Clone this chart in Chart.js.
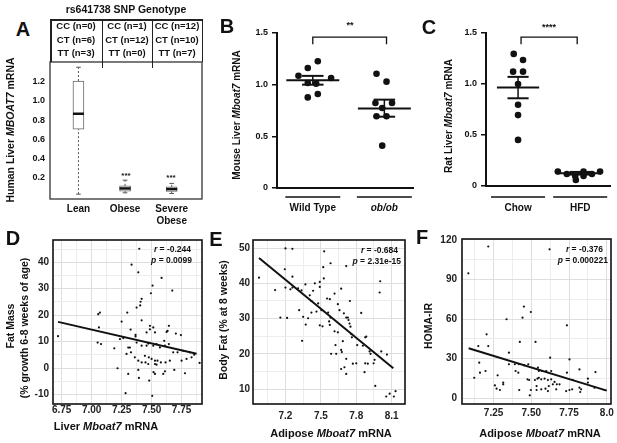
<!DOCTYPE html>
<html>
<head>
<meta charset="utf-8">
<script src="https://cdn.jsdelivr.net/npm/chart.js@4.4.1/dist/chart.umd.min.js"></script>
<style>
body { margin: 0; background: #fff; }
#fig { position: relative; width: 617px; height: 443px; overflow: hidden;
       font-family: "Liberation Sans", Arial, sans-serif; font-weight: bold; color: #111; }
canvas { position: absolute; }
.t { position: absolute; white-space: nowrap; line-height: 1; transform: translate(-50%, -50%); }
.r { transform: translate(-50%, -50%) rotate(-90deg); }
.re { transform: translate(-100%, -50%); }
.ln { position: absolute; background: #222; }
.big { font-size: 20px; }
</style>
</head>
<body>
<div id="fig">
  <canvas id="ca" style="left:0px;top:45px" width="210" height="190"></canvas>
  <canvas id="cb" style="left:215px;top:10px" width="202" height="220"></canvas>
  <canvas id="cc" style="left:425px;top:10px" width="192" height="220"></canvas>
  <canvas id="cd" style="left:0px;top:228px" width="210" height="192"></canvas>
  <canvas id="ce" style="left:210px;top:228px" width="200" height="192"></canvas>
  <canvas id="cf" style="left:415px;top:228px" width="202" height="192"></canvas>

  <!-- panel letters -->
  <div class="t big" style="left:23px;top:29px">A</div>
  <div class="t big" style="left:227px;top:26px">B</div>
  <div class="t big" style="left:429px;top:27px">C</div>
  <div class="t big" style="left:13px;top:238px">D</div>
  <div class="t big" style="left:216px;top:239px">E</div>
  <div class="t big" style="left:422px;top:237px">F</div>

  <!-- panel A header table -->
  <div class="t" style="left:126px;top:9px;font-size:10.5px">rs641738 SNP Genotype</div>
  <div class="ln" style="left:50px;top:19px;width:153px;height:1.5px"></div>
  <div class="ln" style="left:50px;top:19px;width:1.5px;height:43px"></div>
  <div class="ln" style="left:201.5px;top:19px;width:1.5px;height:43px"></div>
  <div class="ln" style="left:101.5px;top:19px;width:1.5px;height:49px"></div>
  <div class="ln" style="left:151.5px;top:19px;width:1.5px;height:49px"></div>
  <div class="t" style="left:76px;top:26px;font-size:9.5px">CC (n=0)</div>
  <div class="t" style="left:76px;top:39.5px;font-size:9.5px">CT (n=6)</div>
  <div class="t" style="left:76px;top:53px;font-size:9.5px">TT (n=3)</div>
  <div class="t" style="left:127px;top:26px;font-size:9.5px">CC (n=1)</div>
  <div class="t" style="left:127px;top:39.5px;font-size:9.5px">CT (n=12)</div>
  <div class="t" style="left:127px;top:53px;font-size:9.5px">TT (n=0)</div>
  <div class="t" style="left:177px;top:26px;font-size:9.5px">CC (n=12)</div>
  <div class="t" style="left:177px;top:39.5px;font-size:9.5px">CT (n=10)</div>
  <div class="t" style="left:177px;top:53px;font-size:9.5px">TT (n=7)</div>
  <div class="t" style="left:126px;top:176px;font-size:8px">***</div>
  <div class="t" style="left:171px;top:178px;font-size:8px">***</div>

  <!-- axis titles -->
  <div class="t r" style="left:10px;top:130px;font-size:10.5px">Human Liver <i>MBOAT7</i> mRNA</div>
  <div class="t r" style="left:237px;top:115px;font-size:10px">Mouse Liver <i>Mboat7</i> mRNA</div>
  <div class="t r" style="left:449px;top:116px;font-size:10px">Rat Liver <i>Mboat7</i> mRNA</div>
  <div class="t" style="left:350px;top:25px;font-size:9px">**</div>
  <div class="t" style="left:549px;top:27px;font-size:9px">****</div>

  <div class="t r" style="left:10px;top:326px;font-size:10.5px">Fat Mass</div>
  <div class="t r" style="left:24px;top:328px;font-size:10.5px">(% growth 6-8 weeks of age)</div>
  <div class="t" style="left:106px;top:426px;font-size:11px">Liver <i>Mboat7</i> mRNA</div>
  <div class="t r" style="left:223px;top:320px;font-size:10.5px">Body Fat (% at 8 weeks)</div>
  <div class="t" style="left:331px;top:433px;font-size:11px">Adipose <i>Mboat7</i> mRNA</div>
  <div class="t r" style="left:428px;top:326px;font-size:10.5px">HOMA-IR</div>
  <div class="t" style="left:540px;top:433px;font-size:11px">Adipose <i>Mboat7</i> mRNA</div>

  <div class="t re" style="left:191px;top:249px;font-size:8.5px"><i>r</i> = -0.244</div>
  <div class="t re" style="left:192px;top:260px;font-size:8.5px"><i>p</i> = 0.0099</div>
  <div class="t re" style="left:398px;top:250px;font-size:8.5px"><i>r</i> = -0.684</div>
  <div class="t re" style="left:401px;top:261px;font-size:8.5px"><i>p</i> = 2.31e-15</div>
  <div class="t re" style="left:603px;top:249px;font-size:8.5px"><i>r</i> = -0.376</div>
  <div class="t re" style="left:608px;top:260px;font-size:8.5px"><i>p</i> = 0.000221</div>
</div>

<script>
// ---- A: box plot summary (human liver MBOAT7) ----
var aLabels = ['Lean', 'Obese', ['Severe', 'Obese']];
var aMin = [0.021, 0.035, 0.028];
var aQ1  = [0.705, 0.053, 0.049];
var aMed = [0.866, 0.081, 0.074];
var aQ3  = [1.21, 0.108, 0.098];
var aMax = [1.355, 0.168, 0.134];
var aYTicks = [0.2, 0.4, 0.6, 0.8, 1.0, 1.2];

// ---- B: mouse liver ----
var bGroups = ['Wild Type', 'ob/ob'];
var bWtX = [1.07, 0.93, 0.80, 1.256, 0.93, 1.047, 0.93, 1.07];
var bWtY = [1.226, 1.161, 1.087, 1.065, 1.016, 1.01, 0.877, 0.91];
var bObX = [1.89, 2.03, 1.875, 2.107, 1.97, 1.89, 2.03, 1.97];
var bObY = [1.106, 1.029, 0.823, 0.823, 0.774, 0.694, 0.694, 0.41];
var bMean = [1.042, 0.77];
var bSemLo = [1.0, 0.69];
var bSemHi = [1.085, 0.855];

// ---- C: rat liver ----
var cGroups = ['Chow', 'HFD'];
var cChowX = [0.93, 1.08, 0.92, 1.08, 1.0, 1.0, 1.0, 1.0];
var cChowY = [1.295, 1.236, 1.121, 1.121, 1.0, 0.797, 0.695, 0.452];
var cHfdX = [1.64, 1.785, 1.92, 1.93, 2.054, 2.054, 2.19, 2.32];
var cHfdY = [0.141, 0.118, 0.098, 0.059, 0.141, 0.098, 0.118, 0.141];
var cMean = [0.965, 0.125];
var cSemLo = [0.86, 0.112];
var cSemHi = [1.07, 0.138];

// ---- D: liver Mboat7 vs fat mass growth ----
var dX = [7.397,7.333,7.389,7.583,7.672,7.508,7.494,7.417,7.408,7.405,7.375,7.297,7.069,7.055,7.061,7.417,7.25,7.325,7.366,7.366,
  7.486,7.486,7.514,7.458,7.528,7.644,7.633,7.625,7.702,7.744,7.264,7.236,7.05,7.078,7.189,7.305,7.319,7.291,7.328,7.375,
  7.417,7.458,7.472,7.514,7.541,7.569,7.611,7.605,7.644,7.68,7.716,7.763,7.819,7.855,7.833,7.75,7.791,7.444,7.477,7.5,
  7.528,7.549,7.36,7.389,7.417,7.449,7.472,7.577,7.616,7.652,7.528,7.541,7.689,7.778,7.611,7.597,7.516,7.528,7.305,7.389,
  7.394,7.216,7.48,7.283,7.505,6.72,7.9];
var dY = [45.1,39.1,36.2,34.1,29.3,31.2,28.3,26.2,25.1,23.7,22.9,21.0,21.0,20.4,15.4,18.1,17.6,14.6,12.6,12.0,
  16.0,14.7,15.4,13.5,13.5,16.0,14.1,13.7,13.1,12.5,11.4,11.0,9.7,9.1,7.5,7.8,7.8,5.4,6.0,9.7,
  8.5,8.5,9.3,8.5,9.1,7.85,8.5,10.35,9.1,6.0,6.0,6.6,6.0,5.1,4.1,2.85,3.5,4.7,4.1,3.5,
  2.85,2.85,4.1,2.85,2.2,2.2,1.6,2.2,2.2,2.85,1.6,1.35,-0.65,-1.9,-1.15,-2.15,-1.5,-2.15,-2.15,-0.65,
  -3.65,0.0,-4.65,-9.4,-10.4,12.1,2.0];
var dFitX = [6.72, 7.875];
var dFitY = [17.5, 5.5];
var dXGrid = [6.75,6.875,7.0,7.125,7.25,7.375,7.5,7.625,7.75,7.875];
var dXMajor = [6.75,7.0,7.25,7.5,7.75];
var dYGrid = [-10,-5,0,5,10,15,20,25,30,35,40,45];
var dYMajor = [-10,0,10,20,30,40];

// ---- E: adipose Mboat7 vs body fat ----
var eX = [6.976,7.2,7.259,7.528,7.582,7.194,7.52,7.259,7.112,7.2,7.242,7.259,7.307,7.336,7.369,7.449,7.491,7.491,7.525,7.434,
  7.406,7.42,7.477,7.553,7.576,7.316,7.42,7.463,7.505,7.157,7.214,7.35,7.392,7.562,7.372,7.491,7.514,7.57,7.576,7.341,
  7.715,8.003,7.998,7.672,7.746,7.842,7.616,7.644,7.658,7.695,7.715,7.729,7.734,7.743,7.751,7.582,7.616,7.644,7.757,7.763,
  7.686,7.624,7.808,7.856,7.876,7.885,7.672,7.678,7.63,7.587,7.913,7.921,8.012,8.06,7.715,7.955,7.947,7.771,7.8,7.672,
  7.7,7.715,7.876,7.898,7.87,7.961,8.054,8.083,8.119,8.133];
var eY = [41.6,49.9,49.8,49.1,45.7,44.0,44.6,41.9,38.1,38.8,38.3,38.8,38.6,38.0,39.7,40.0,40.4,39.0,41.4,37.9,
  36.6,35.0,34.3,35.7,35.5,32.4,31.7,32.0,32.4,30.3,30.2,30.5,30.1,31.7,28.3,28.1,27.8,29.2,28.2,23.7,
  44.9,40.6,37.4,38.5,35.0,31.6,37.1,34.1,32.4,31.5,30.3,30.3,29.6,28.6,27.7,30.3,26.4,26.1,25.6,24.7,
  23.6,22.5,22.5,22.3,24.7,24.9,21.1,20.5,20.0,20.0,20.7,20.0,20.7,19.8,18.6,18.3,17.3,17.2,17.3,15.7,
  16.2,14.3,17.3,17.2,14.8,10.9,7.9,8.7,7.9,9.4];
var eFitX = [6.976, 8.114];
var eFitY = [47.2, 15.9];
var eXGrid = [7.05,7.2,7.35,7.5,7.65,7.8,7.95,8.1];
var eXMajor = [7.2,7.5,7.8,8.1];
var eYGrid = [10,15,20,25,30,35,40,45,50];
var eYMajor = [10,20,30,40,50];

// ---- F: adipose Mboat7 vs HOMA-IR ----
var fX = [7.215,7.083,7.451,7.497,7.442,7.336,7.204,7.149,7.215,7.528,7.424,7.352,7.155,7.16,7.122,7.197,7.277,7.352,7.391,7.418,
  7.453,7.48,7.396,7.414,7.259,7.27,7.292,7.314,7.314,7.475,7.486,7.524,7.541,7.55,7.42,7.497,7.49,7.535,7.535,
  7.621,7.736,7.625,7.753,7.544,7.572,7.599,7.819,7.925,7.632,7.55,7.566,7.588,7.61,7.632,7.654,7.643,7.616,7.669,7.687,
  7.736,7.775,7.594,7.61,7.665,7.731,7.753,7.771,7.83,7.824,7.819,7.875,7.875,7.919,7.985,7.566];
var fY = [115.0,94.7,69.5,65.4,61.1,59.9,48.5,39.6,39.6,42.7,42.7,34.6,27.0,19.4,15.6,20.7,17.4,25.8,25.8,25.8,
  25.0,25.8,20.7,19.4,9.8,7.3,6.3,11.9,10.6,14.4,13.9,13.9,14.9,20.7,6.3,6.3,2.3,6.3,9.3,
  112.9,55.3,30.8,29.5,23.2,20.7,20.7,21.9,19.9,20.7,15.6,14.4,14.9,13.9,14.4,12.4,10.6,9.3,10.6,10.6,
  19.4,13.9,7.3,5.5,6.8,5.5,6.3,6.8,6.8,4.8,8.1,14.9,11.9,8.1,6.3,6.8];
var fFitX = [7.085, 8.0];
var fFitY = [37.9, 5.8];
var fXGrid = [7.125,7.25,7.375,7.5,7.625,7.75,7.875,8.0];
var fXMajor = [7.25,7.5,7.75,8.0];
var fYGrid = [0,15,30,45,60,75,90,105,120];
var fYMajor = [0,30,60,90,120];

Chart.defaults.font.family = '"Liberation Sans", Arial, sans-serif';
Chart.defaults.font.weight = 'bold';
Chart.defaults.color = '#111';
Chart.defaults.animation = false;
Chart.defaults.events = [];
Chart.defaults.plugins.legend.display = false;
Chart.defaults.plugins.tooltip.enabled = false;

// box round the plot area
var frame = {
  id: 'frame',
  afterDatasetsDraw: function(chart, args, opts) {
    var a = chart.chartArea, c = chart.ctx;
    c.save();
    c.strokeStyle = opts.color || '#111';
    c.lineWidth = opts.width || 1.5;
    c.strokeRect(a.left, a.top, a.right - a.left, a.bottom - a.top);
    c.restore();
  }
};

// group underlines below the x axis (GraphPad style)
var groupLines = {
  id: 'groupLines',
  afterDraw: function(chart, args, opts) {
    var x = chart.scales.x, c = chart.ctx, y0 = chart.chartArea.bottom + opts.gap;
    c.save();
    c.strokeStyle = '#111';
    c.lineWidth = 1.5;
    opts.centers.forEach(function(v) {
      c.beginPath();
      c.moveTo(x.getPixelForValue(v - opts.half), y0);
      c.lineTo(x.getPixelForValue(v + opts.half), y0);
      c.stroke();
    });
    c.restore();
  }
};

function seg(pts, w, extra) {
  var d = {
    type: 'line',
    data: pts.map(function(p) { return {x: p[0], y: p[1]}; }),
    borderColor: '#111', borderWidth: w, pointRadius: 0, fill: false, clip: false
  };
  for (var k in extra) d[k] = extra[k];
  return d;
}

function pts(xs, ys) {
  return xs.map(function(x, i) { return {x: x, y: ys[i]}; });
}

function fixedTicks(list) {
  return function(s) { s.ticks = list.map(function(v) { return {value: v}; }); };
}

function isIn(list, v) {
  return list.some(function(t) { return Math.abs(t - v) < 1e-6; });
}

// ---------- A ----------
var aX = [1, 2, 3];
var aSets = [];
aX.forEach(function(x, i) {
  aSets.push(seg([[x - 0.118, aMed[i]], [x + 0.118, aMed[i]]], 2.5, {order: 0}));
  aSets.push(seg([[x, aQ3[i]], [x, aMax[i]]], 1, {order: 1, borderColor: '#555', borderDash: [2, 2]}));
  aSets.push(seg([[x, aMin[i]], [x, aQ1[i]]], 1, {order: 1, borderColor: '#555', borderDash: [2, 2]}));
  aSets.push(seg([[x - 0.05, aMax[i]], [x + 0.05, aMax[i]]], 1, {order: 1, borderColor: '#555'}));
  aSets.push(seg([[x - 0.05, aMin[i]], [x + 0.05, aMin[i]]], 1, {order: 1, borderColor: '#555'}));
});
aSets.push({
  type: 'bar', order: 2,
  data: aX.map(function(x, i) { return {x: x, y: [aQ1[i], aQ3[i]]}; }),
  backgroundColor: '#fff', borderColor: '#666', borderWidth: 1, borderSkipped: false, barThickness: 11
});

new Chart(document.getElementById('ca'), {
  type: 'scatter',
  data: { datasets: aSets },
  options: {
    responsive: false,
    layout: { padding: { top: 17, right: 8, left: 0, bottom: 0 } },
    plugins: { frame: { width: 1.3, color: '#333' } },
    scales: {
      x: {
        type: 'linear', min: 0.39, max: 3.65, offset: false,
        afterBuildTicks: fixedTicks(aX),
        afterFit: function(s) { s.height = 36; },
        ticks: { autoSkip: false, maxRotation: 0, padding: 4, font: { size: 10 },
                 callback: function(v, i) { return aLabels[i]; } },
        grid: { display: false, drawTicks: false, offset: false }, border: { display: false }
      },
      y: {
        min: -0.03, max: 1.41,
        afterBuildTicks: fixedTicks(aYTicks),
        afterFit: function(s) { s.width = 50; },
        ticks: { padding: 5, font: { size: 9 }, callback: function(v) { return v.toFixed(1); } },
        grid: { display: false, drawTicks: false }, border: { display: false }
      }
    }
  },
  plugins: [frame]
});

// ---------- B and C (dot plots with mean +/- SEM) ----------
function dotPlot(id, o) {
  var sets = [];
  o.px.forEach(function(xs, g) {
    sets.push({ type: 'scatter', data: pts(xs, o.py[g]), backgroundColor: '#111', borderWidth: 0,
                pointRadius: 3.3, clip: false });
  });
  o.mean.forEach(function(m, g) {
    var c = g + 1;
    sets.push(seg([[c - o.meanHalf, m], [c + o.meanHalf, m]], 2));
    sets.push(seg([[c, o.lo[g]], [c, o.hi[g]]], 1.5));
    sets.push(seg([[c - o.capHalf, o.lo[g]], [c + o.capHalf, o.lo[g]]], 2));
    sets.push(seg([[c - o.capHalf, o.hi[g]], [c + o.capHalf, o.hi[g]]], 2));
  });
  sets.push(seg([[o.br[0], 1.39], [o.br[0], 1.46], [o.br[1], 1.46], [o.br[1], 1.39]], 1.3));

  new Chart(document.getElementById(id), {
    type: 'scatter',
    data: { datasets: sets },
    options: {
      responsive: false,
      layout: { padding: { top: 23, right: o.padRight, left: 0, bottom: 0 } },
      plugins: { groupLines: { centers: [1, 2], half: o.lineHalf, gap: o.gap } },
      scales: {
        x: {
          type: 'linear', min: o.xmin, max: o.xmax, offset: false,
          afterBuildTicks: fixedTicks([1, 2]),
          afterFit: function(s) { s.height = o.xh; },
          ticks: {
            autoSkip: false, maxRotation: 0, padding: o.labelPad,
            font: function(ctx) {
              return { size: 10, weight: 'bold', style: (o.italic === ctx.index) ? 'italic' : 'normal' };
            },
            callback: function(v, i) { return o.names[i]; }
          },
          grid: { display: false, drawTicks: false },
          border: { display: true, color: '#111', width: 2 }
        },
        y: {
          min: 0, max: 1.5,
          afterBuildTicks: fixedTicks([0, 0.5, 1.0, 1.5]),
          afterFit: function(s) { s.width = o.yw; },
          ticks: { padding: 4, font: { size: 9 },
                   callback: function(v) { return v === 0 ? '0' : v.toFixed(1); } },
          grid: { drawOnChartArea: false, drawTicks: true, tickLength: 5, color: '#111', lineWidth: 1.5 },
          border: { display: true, color: '#111', width: 2 }
        }
      }
    },
    plugins: [groupLines]
  });
}

dotPlot('cb', {
  px: [bWtX, bObX], py: [bWtY, bObY], mean: bMean, lo: bSemLo, hi: bSemHi,
  names: bGroups, italic: 1, br: [1.0, 2.03],
  meanHalf: 0.37, capHalf: 0.15, lineHalf: 0.384, gap: 9,
  xmin: 0.5, xmax: 2.4, yw: 62, xh: 42, padRight: 4, labelPad: 14
});

dotPlot('cc', {
  px: [cChowX, cHfdX], py: [cChowY, cHfdY], mean: cMean, lo: cSemLo, hi: cSemHi,
  names: cGroups, italic: -1, br: [1.048, 1.952],
  meanHalf: 0.34, capHalf: 0.17, lineHalf: 0.435, gap: 11,
  xmin: 0.484, xmax: 2.48, yw: 61, xh: 44, padRight: 7, labelPad: 16
});

// ---------- D, E, F (scatter with fitted line) ----------
function scatterPanel(id, o) {
  new Chart(document.getElementById(id), {
    type: 'scatter',
    data: {
      datasets: [
        seg([[o.fx[0], o.fy[0]], [o.fx[1], o.fy[1]]], 2, { order: 0, clip: true }),
        { type: 'scatter', order: 1, data: pts(o.xs, o.ys), backgroundColor: '#111',
          borderWidth: 0, pointRadius: 1.1 }
      ]
    },
    options: {
      responsive: false,
      layout: { padding: { top: o.padTop, right: o.padRight, left: 0, bottom: 0 } },
      plugins: { frame: { width: 1.6, color: '#111' } },
      scales: {
        x: {
          type: 'linear', min: o.xmin, max: o.xmax,
          afterBuildTicks: fixedTicks(o.xGrid),
          afterFit: function(s) { s.height = 16; },
          ticks: { autoSkip: false, maxRotation: 0, padding: o.xPad, font: { size: 10 }, color: '#222',
                   callback: function(v) { return isIn(o.xMajor, v) ? o.xFmt(v) : ''; } },
          grid: { drawTicks: false,
                  color: function(ctx) { return isIn(o.xMajor, ctx.tick.value) ? '#dedede' : '#ededed'; } },
          border: { display: false }
        },
        y: {
          min: o.ymin, max: o.ymax,
          afterBuildTicks: fixedTicks(o.yGrid),
          afterFit: function(s) { s.width = o.yw; },
          ticks: { autoSkip: false, padding: o.yPad, font: { size: 10 }, color: '#222',
                   callback: function(v) { return isIn(o.yMajor, v) ? String(v) : ''; } },
          grid: { drawTicks: false,
                  color: function(ctx) { return isIn(o.yMajor, ctx.tick.value) ? '#dedede' : '#ededed'; } },
          border: { display: false }
        }
      }
    },
    plugins: [frame]
  });
}

scatterPanel('cd', {
  xs: dX, ys: dY, fx: dFitX, fy: dFitY,
  xmin: 6.678, xmax: 7.92, ymin: -13.5, ymax: 48.4,
  xGrid: dXGrid, xMajor: dXMajor, yGrid: dYGrid, yMajor: dYMajor,
  xFmt: function(v) { return v.toFixed(2); },
  yw: 53, padTop: 12, padRight: 8, xPad: 0, yPad: 4
});

scatterPanel('ce', {
  xs: eX, ys: eY, fx: eFitX, fy: eFitY,
  xmin: 6.925, xmax: 8.213, ymin: 5.77, ymax: 52.3,
  xGrid: eXGrid, xMajor: eXMajor, yGrid: eYGrid, yMajor: eYMajor,
  xFmt: function(v) { return v.toFixed(1); },
  yw: 43, padTop: 12, padRight: 5, xPad: 6, yPad: 3
});

scatterPanel('cf', {
  xs: fX, ys: fY, fx: fFitX, fy: fFitY,
  xmin: 7.041, xmax: 8.028, ymin: -4.3, ymax: 120.7,
  xGrid: fXGrid, xMajor: fXMajor, yGrid: fYGrid, yMajor: fYMajor,
  xFmt: function(v) { return v === 8 ? '8.0' : v.toFixed(2); },
  yw: 47, padTop: 11, padRight: 6, xPad: 3, yPad: 5
});
</script>
</body>
</html>
